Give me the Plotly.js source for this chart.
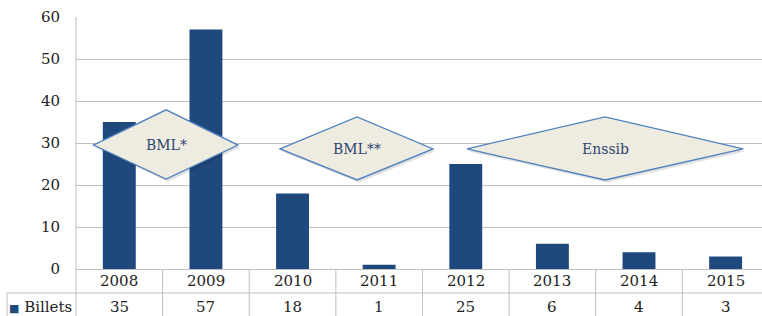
<!DOCTYPE html>
<html><head><meta charset="utf-8">
<script src="https://cdn.plot.ly/plotly-3.0.1.min.js"></script>
<style>body{margin:0;background:#fff}#c{width:762px;height:316px}</style>
</head><body><div id="c"></div>
<script>
var years = ['2008','2009','2010','2011','2012','2013','2014','2015'];
var billets = [35, 57, 18, 1, 25, 6, 4, 3];
var seriesName = 'Billets';
var periods = ['BML*', 'BML**', 'Enssib'];

var FONT = 'DejaVu Serif';
var FS = 15;
var BAR = '#1F497D';
var GRID = '#BFBFBF';
var TXT = '#222222';

// diamond geometry (in axis units)
var diamonds = [
  {cx: 0.54, l: -0.30, r: 1.37, cy: 29.5, t: 37.9, b: 21.4},
  {cx: 2.745, l: 1.856, r: 3.622, cy: 28.6, t: 36.2, b: 21.2},
  {cx: 5.608, l: 4.015, r: 7.202, cy: 28.6, t: 36.2, b: 21.2}
];

var shapes = [];
var annotations = [];
var xr = [-0.5, 7.42];
var span = xr[1] - xr[0];
function xp(v){ return (v - xr[0]) / span; }

// table lines
var rowMid = -0.0952, rowBot = -0.20;
shapes.push({type:'line', xref:'paper', yref:'paper', x0:-69/686, x1:1, y0:rowMid, y1:rowMid, line:{color:GRID, width:1}});
shapes.push({type:'line', xref:'paper', yref:'paper', x0:-69/686, x1:-69/686, y0:rowMid, y1:rowBot, line:{color:GRID, width:1}});
shapes.push({type:'line', xref:'paper', yref:'paper', x0:0, x1:0, y0:1, y1:rowBot, line:{color:GRID, width:1}});
for (var i = 0; i < years.length; i++) {
  shapes.push({type:'line', xref:'paper', yref:'paper', x0:xp(i+0.5), x1:xp(i+0.5), y0:0, y1:rowBot, line:{color:GRID, width:1}});
  annotations.push({xref:'x', yref:'paper', x:i, y:-0.049, text:years[i], showarrow:false, yanchor:'middle', font:{family:FONT, size:FS, color:TXT}});
  annotations.push({xref:'x', yref:'paper', x:i, y:-0.152, text:String(billets[i]), showarrow:false, yanchor:'middle', font:{family:FONT, size:FS, color:TXT}});
}
annotations.push({xref:'paper', yref:'paper', x:-0.0035, y:-0.152, xanchor:'right', yanchor:'middle', showarrow:false,
  text:'<span style="color:'+BAR+';font-size:11px">■</span> ' + seriesName, font:{family:FONT, size:FS, color:TXT}});

// diamonds
diamonds.forEach(function(d, k){
  var p = 'M '+d.l+' '+d.cy+' L '+d.cx+' '+d.t+' L '+d.r+' '+d.cy+' L '+d.cx+' '+d.b+' Z';
  shapes.push({type:'path', xref:'x', yref:'y', path:'M '+(d.l+0.02)+' '+(d.cy-0.6)+' L '+(d.cx+0.02)+' '+(d.t-0.6)+' L '+(d.r+0.02)+' '+(d.cy-0.6)+' L '+(d.cx+0.02)+' '+(d.b-0.6)+' Z',
    fillcolor:'rgba(0,0,0,0.12)', line:{width:0}, layer:'above'});
  shapes.push({type:'path', xref:'x', yref:'y', path:p, fillcolor:'#EEECE1', line:{color:'#4F81BD', width:1.3}, layer:'above'});
  annotations.push({xref:'x', yref:'y', x:d.cx, y:d.cy, text:periods[k], showarrow:false, font:{family:FONT, size:14, color:'#2E4670'}});
});

var trace = {type:'bar', x:years.map(function(y,i){return i;}), y:billets, name:seriesName,
  marker:{color:BAR}, width:0.38, hoverinfo:'none'};

var layout = {
  width:762, height:316,
  margin:{l:76, r:0, t:17, b:47},
  paper_bgcolor:'#fff', plot_bgcolor:'#fff',
  showlegend:false,
  font:{family:FONT},
  xaxis:{range:xr, showticklabels:false, showgrid:false, zeroline:false, showline:false, fixedrange:true},
  yaxis:{range:[0,60], dtick:10, showgrid:true, gridcolor:GRID, gridwidth:1, zeroline:true, zerolinecolor:GRID, zerolinewidth:1,
    showline:false, ticks:'', ticklabelstandoff:15, tickfont:{family:FONT, size:FS, color:TXT}, fixedrange:true},
  shapes:shapes,
  annotations:annotations
};
Plotly.newPlot('c', [trace], layout, {displayModeBar:false, staticPlot:true});
</script>
</body></html>
